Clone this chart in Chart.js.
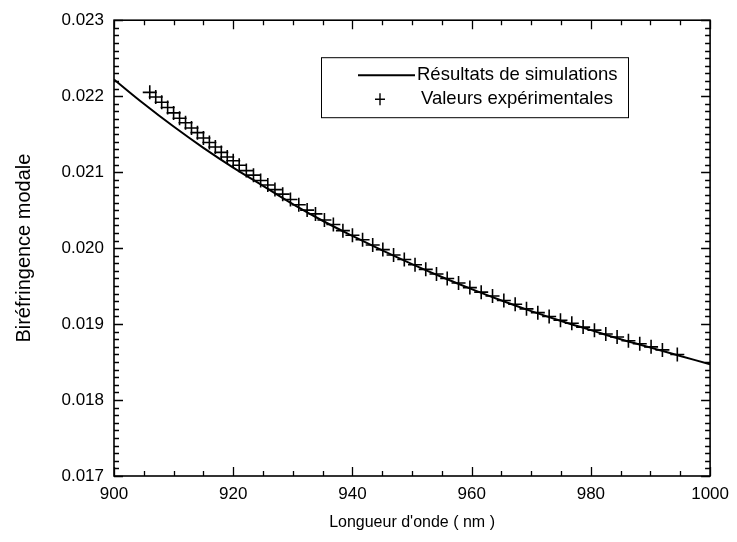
<!DOCTYPE html>
<html>
<head>
<meta charset="utf-8">
<script src="https://cdn.jsdelivr.net/npm/chart.js@4.4.1/dist/chart.umd.min.js"></script>
<style>
    html, body { margin: 0; padding: 0; background: #fff; }
</style>
</head>
<body>
<canvas id="birefChart" width="737" height="542"></canvas>
<script>
// simulated curve
const simWavelength = [900, 905, 910, 915, 920, 925, 930, 935, 940, 945, 950,
    955, 960, 965, 970, 975, 980, 985, 990, 995, 1000];
const simBiref = [0.02222, 0.02190, 0.02160, 0.02132, 0.02106, 0.02082, 0.02058,
    0.02036, 0.02016, 0.01997, 0.01979, 0.01962, 0.01946, 0.01931, 0.01917,
    0.01904, 0.01892, 0.01880, 0.01869, 0.01858, 0.01847];

// measured points
const expWavelength = [906, 907, 908, 909, 910, 911, 912, 913, 914, 915, 916, 917,
    918, 919, 920, 921, 922.2, 923.4, 924.6, 925.8, 927, 928.3, 929.6, 931, 932.4,
    933.8, 935.3, 936.8, 938.4, 940, 941.7, 943.4, 945.1, 946.9, 948.7, 950.5,
    952.3, 954.1, 955.9, 957.8, 959.7, 961.6, 963.5, 965.4, 967.3, 969.2, 971.1,
    973, 974.9, 976.8, 978.7, 980.6, 982.5, 984.4, 986.3, 988.2, 990.1, 992, 994.5];
const expBiref = [0.02205, 0.02199, 0.02192, 0.02185, 0.02178, 0.02171, 0.02165,
    0.02158, 0.02152, 0.02145, 0.02139, 0.02133, 0.02126, 0.02120, 0.02115,
    0.02109, 0.02102, 0.02096, 0.02089, 0.02083, 0.02077, 0.02071, 0.02064,
    0.02057, 0.02050, 0.02045, 0.02037, 0.02031, 0.02023, 0.02017, 0.02011,
    0.02004, 0.01998, 0.01991, 0.01985, 0.01978, 0.01972, 0.01966, 0.01960,
    0.01954, 0.01948, 0.01942, 0.01937, 0.01931, 0.01926, 0.01920, 0.01915,
    0.01910, 0.01905, 0.01901, 0.01896, 0.01892, 0.01887, 0.01883, 0.01878,
    0.01874, 0.01870, 0.01866, 0.01860];

const xTicks = [900, 920, 940, 960, 980, 1000];
const yTicks = [0.017, 0.018, 0.019, 0.020, 0.021, 0.022, 0.023];

const FONT = "'Liberation Sans', Arial, sans-serif";

// box + inward ticks on all four sides (minor 5 nm / 0.0001)
const frameTicks = {
    id: "frameTicks",
    afterDatasetsDraw(chart) {
        const { ctx, chartArea: a, scales: { x, y } } = chart;
        ctx.save();
        ctx.strokeStyle = "#000";
        ctx.lineWidth = 1.6;
        ctx.strokeRect(a.left, a.top, a.right - a.left, a.bottom - a.top);
        ctx.lineWidth = 1.3;
        ctx.beginPath();
        for (let i = 0; i <= 20; i++) {
            const px = Math.round(x.getPixelForValue(900 + i * 5)) + 0.5;
            const len = i % 4 === 0 ? 9 : 5;
            ctx.moveTo(px, a.bottom); ctx.lineTo(px, a.bottom - len);
            ctx.moveTo(px, a.top); ctx.lineTo(px, a.top + len);
        }
        for (let i = 0; i <= 60; i++) {
            const py = Math.round(y.getPixelForValue(0.017 + i * 0.0001)) + 0.5;
            const len = i % 10 === 0 ? 9 : 5;
            ctx.moveTo(a.left, py); ctx.lineTo(a.left + len, py);
            ctx.moveTo(a.right, py); ctx.lineTo(a.right - len, py);
        }
        ctx.stroke();
        ctx.restore();
    }
};

// legend box inside the plot
const insideLegend = {
    id: "insideLegend",
    afterDraw(chart) {
        const { ctx, chartArea: a } = chart;
        const ds = chart.data.datasets;
        const bx = a.left + 207, by = a.top + 37, bw = 307, bh = 60;
        ctx.save();
        ctx.fillStyle = "#fff";
        ctx.fillRect(bx, by, bw, bh);
        ctx.strokeStyle = "#000";
        ctx.lineWidth = 1;
        ctx.strokeRect(bx + 0.5, by + 0.5, bw, bh);

        ctx.font = "18.5px " + FONT;
        ctx.fillStyle = "#000";
        ctx.textBaseline = "middle";

        const r1 = by + 18, r2 = by + 42;
        ctx.lineWidth = ds[0].borderWidth;
        ctx.beginPath();
        ctx.moveTo(bx + 37, r1);
        ctx.lineTo(bx + 94, r1);
        ctx.stroke();
        ctx.fillText(ds[0].label, bx + 96, r1);

        ctx.lineWidth = 1.4;
        ctx.beginPath();
        ctx.moveTo(bx + 59 - 5, r2); ctx.lineTo(bx + 59 + 5, r2);
        ctx.moveTo(bx + 59, r2 - 6); ctx.lineTo(bx + 59, r2 + 6);
        ctx.stroke();
        ctx.fillText(ds[1].label, bx + 100, r2);
        ctx.restore();
    }
};

const ctx = document.getElementById("birefChart").getContext("2d");

new Chart(ctx, {
    type: "scatter",
    data: {
        datasets: [
            {
                label: "Résultats de simulations",
                data: simWavelength.map((w, i) => ({ x: w, y: simBiref[i] })),
                showLine: true,
                borderColor: "#000",
                borderWidth: 2,
                pointRadius: 0,
                tension: 0.4,
                order: 2
            },
            {
                label: "Valeurs expérimentales",
                data: expWavelength.map((w, i) => ({ x: w, y: expBiref[i] })),
                showLine: false,
                pointStyle: "cross",
                pointRadius: 7,
                borderColor: "#000",
                borderWidth: 1.6,
                order: 1
            }
        ]
    },
    options: {
        responsive: false,
        animation: false,
        layout: { padding: { top: 20, right: 24, left: 0, bottom: 0 } },
        plugins: {
            legend: { display: false },
            tooltip: { enabled: false }
        },
        scales: {
            x: {
                type: "linear",
                min: 900,
                max: 1000,
                afterBuildTicks: s => { s.ticks = xTicks.map(v => ({ value: v })); },
                afterFit: s => { s.height = 66; },
                grid: { display: false, drawTicks: false },
                border: { display: false },
                ticks: {
                    color: "#000",
                    padding: 8,
                    maxRotation: 0,
                    font: { family: FONT, size: 17 },
                    callback: v => String(v)
                },
                title: {
                    display: true,
                    text: "Longueur d'onde ( nm )",
                    color: "#000",
                    padding: { top: 0, bottom: 10 },
                    font: { family: FONT, size: 16 }
                }
            },
            y: {
                type: "linear",
                min: 0.017,
                max: 0.023,
                afterBuildTicks: s => { s.ticks = yTicks.map(v => ({ value: v })); },
                afterFit: s => { s.width = 114; },
                grid: { display: false, drawTicks: false },
                border: { display: false },
                ticks: {
                    color: "#000",
                    padding: 10,
                    font: { family: FONT, size: 17 },
                    callback: v => v.toFixed(3)
                },
                title: {
                    display: true,
                    text: "Biréfringence modale",
                    color: "#000",
                    padding: { top: 12, bottom: 0 },
                    font: { family: FONT, size: 20 }
                }
            }
        }
    },
    plugins: [frameTicks, insideLegend]
});
</script>
</body>
</html>
